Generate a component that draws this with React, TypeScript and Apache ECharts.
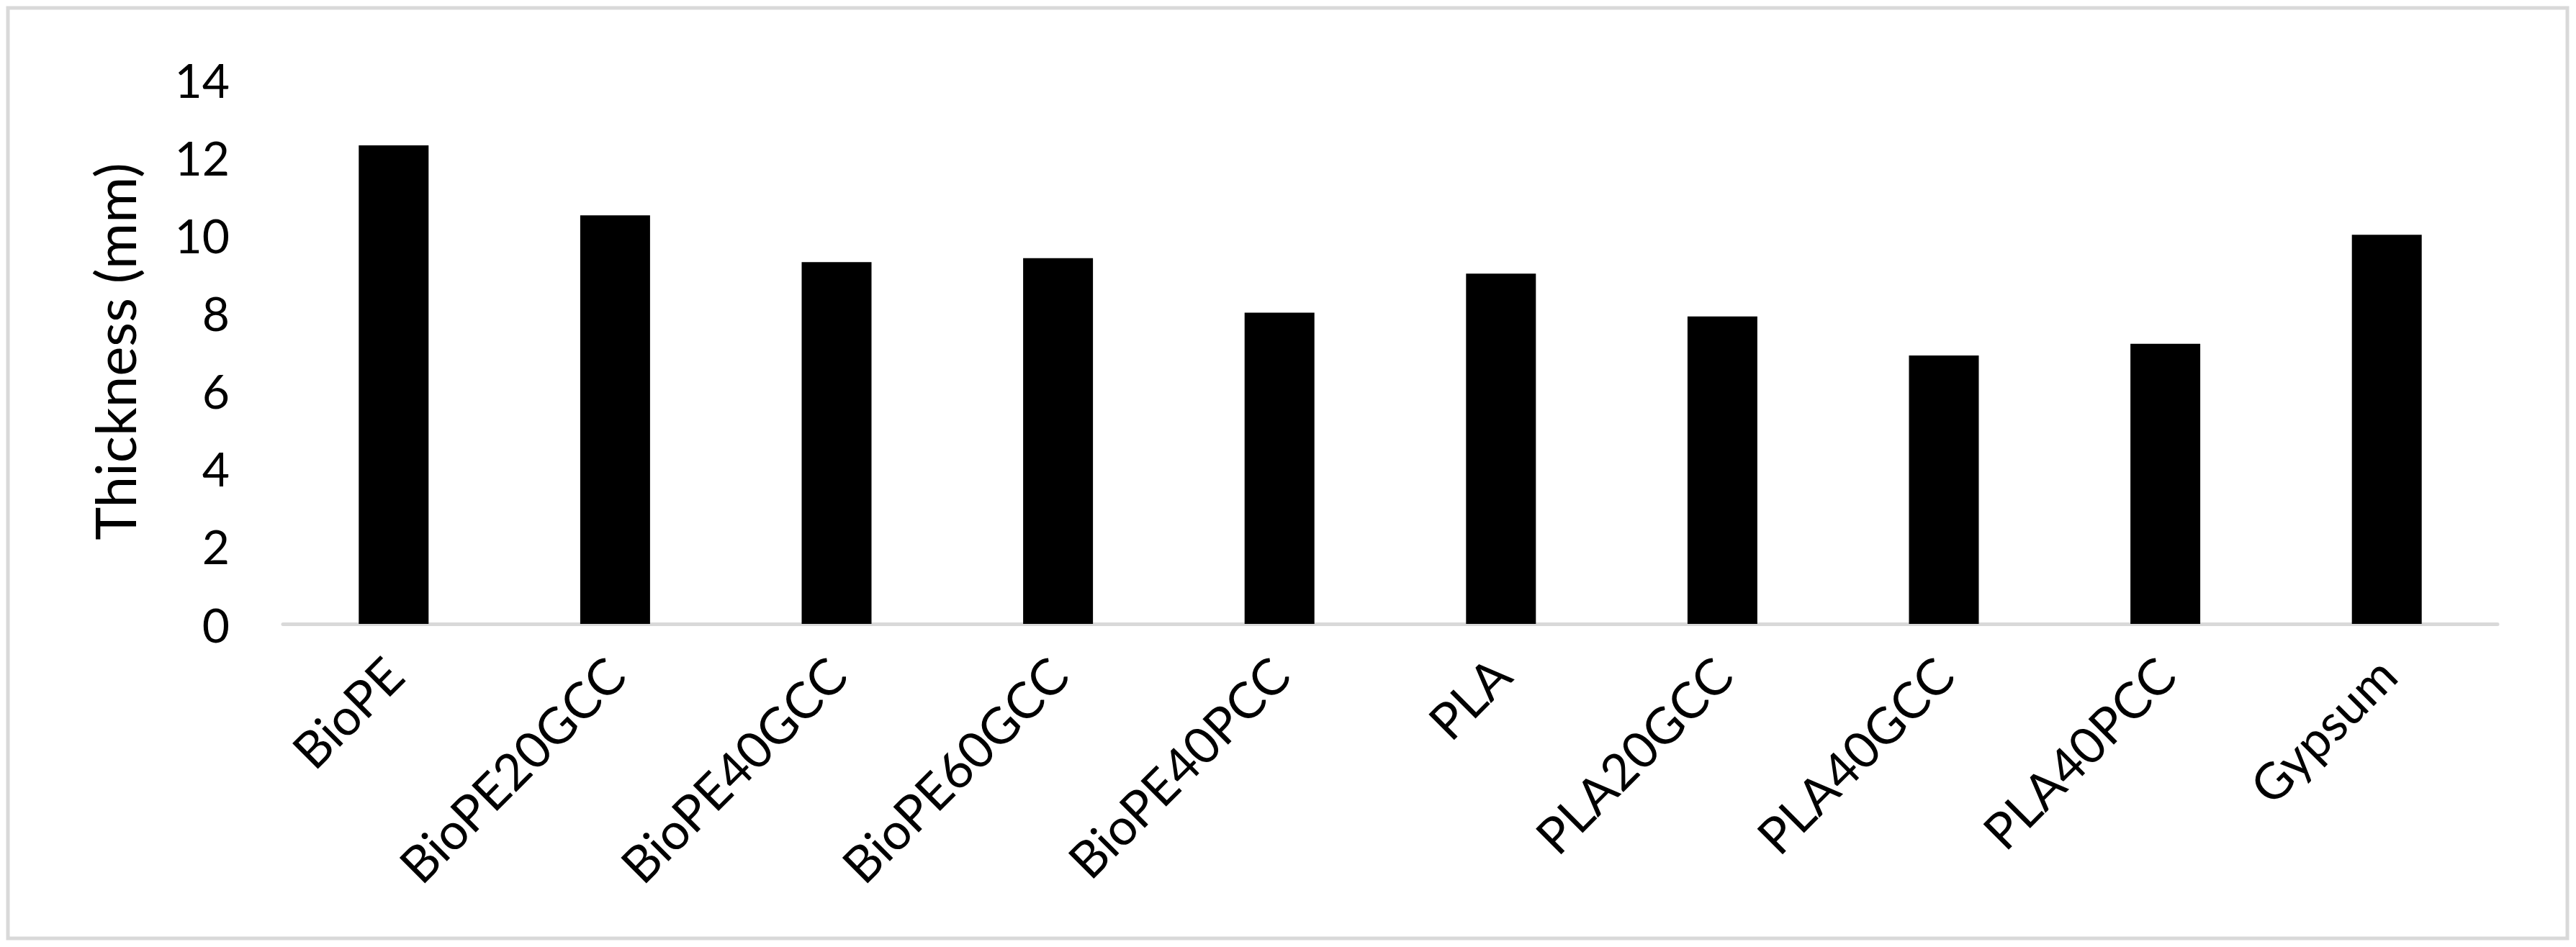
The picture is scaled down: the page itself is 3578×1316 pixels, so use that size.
import React, { useEffect, useRef } from "react";
import * as echarts from "echarts";

const categories = [
  "BioPE",
  "BioPE20GCC",
  "BioPE40GCC",
  "BioPE60GCC",
  "BioPE40PCC",
  "PLA",
  "PLA20GCC",
  "PLA40GCC",
  "PLA40PCC",
  "Gypsum",
];
const thickness = [12.3, 10.5, 9.3, 9.4, 8.0, 9.0, 7.9, 6.9, 7.2, 10.0];
const yMin = 0;
const yMax = 14;
const yInterval = 2;
const yTitle = "Thickness (mm)";

const FONT = "Lato, 'Open Sans', sans-serif";

export default function App() {
  const ref = useRef<HTMLDivElement>(null);
  useEffect(() => {
    document.body.style.margin = "0";
    const chart = echarts.init(ref.current!, null, { renderer: "svg" });
    chart.setOption({
      animation: false,
      backgroundColor: "#ffffff",
      graphic: [
        {
          type: "rect",
          shape: { x: 11, y: 11, width: 3555, height: 1293 },
          style: { fill: "none", stroke: "#d9d9d9", lineWidth: 5 },
          silent: true,
        },
      ],
      grid: { left: 393, right: 109, top: 110, bottom: 449, containLabel: false },
      xAxis: {
        type: "category",
        data: categories,
        axisLine: { show: true, lineStyle: { color: "#d9d9d9", width: 5 } },
        axisTick: { show: false },
        axisLabel: {
          rotate: 45,
          interval: 0,
          margin: 58,
          fontSize: 70,
          fontFamily: FONT,
          color: "#000000",
        },
      },
      yAxis: {
        type: "value",
        min: yMin,
        max: yMax,
        interval: yInterval,
        name: yTitle,
        nameLocation: "middle",
        nameGap: 195,
        nameTextStyle: { fontSize: 78, fontFamily: FONT, color: "#000000" },
        axisLine: { show: false },
        axisTick: { show: false },
        splitLine: { show: false },
        axisLabel: { margin: 74, fontSize: 66, fontFamily: FONT, color: "#000000" },
      },
      series: [
        {
          type: "bar",
          data: thickness,
          barWidth: 97,
          itemStyle: { color: "#000000" },
        },
      ],
    });
    return () => chart.dispose();
  }, []);
  return (
    <div
      ref={ref}
      style={{ position: "absolute", left: 0, top: 0, width: 3578, height: 1316 }}
    />
  );
}
